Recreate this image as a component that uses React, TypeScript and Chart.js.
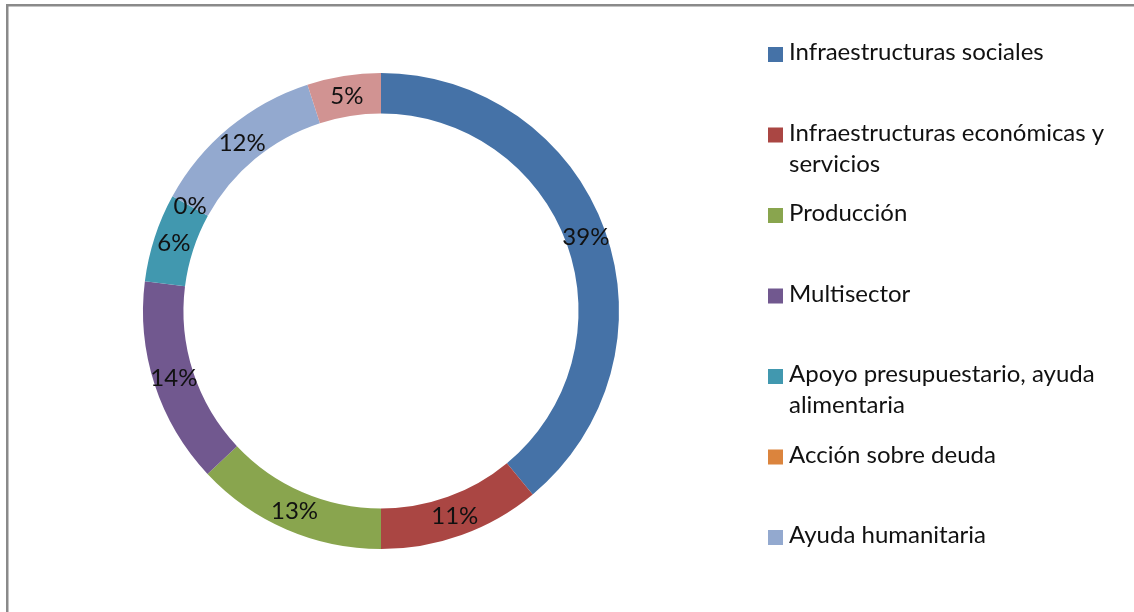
import React, { useEffect, useRef } from "react";
import { Chart, registerables } from "chart.js";

Chart.register(...registerables);

const categories = [
  "Infraestructuras sociales",
  "Infraestructuras económicas y servicios",
  "Producción",
  "Multisector",
  "Apoyo presupuestario, ayuda alimentaria",
  "Acción sobre deuda",
  "Ayuda humanitaria",
  "Otros",
];
const values = [39, 11, 13, 14, 6, 0, 12, 5];
const percentLabels = ["39%", "11%", "13%", "14%", "6%", "0%", "12%", "5%"];
const colors = ["#4572A7", "#AA4643", "#89A54E", "#71588F", "#4198AF", "#DB843D", "#93A9CF", "#D19392"];
const legendCount = 7;

const FONT = "Lato, 'Open Sans', sans-serif";

function wrap(ctx: CanvasRenderingContext2D, text: string, maxW: number): string[] {
  const words = text.split(" ");
  const lines: string[] = [];
  let cur = "";
  for (const w of words) {
    const t = cur ? cur + " " + w : w;
    if (ctx.measureText(t).width > maxW && cur) {
      lines.push(cur);
      cur = w;
    } else cur = t;
  }
  if (cur) lines.push(cur);
  return lines;
}

const framePlugin = {
  id: "frame",
  beforeDraw(chart: any) {
    const ctx = chart.ctx as CanvasRenderingContext2D;
    ctx.save();
    ctx.fillStyle = "#ffffff";
    ctx.fillRect(0, 0, chart.width, chart.height);
    ctx.fillStyle = "#8a8a8a";
    ctx.fillRect(6, 4, chart.width, 2.5);
    ctx.fillRect(6, 4, 2.5, chart.height);
    ctx.restore();
  },
};

const labelsPlugin = {
  id: "sliceLabels",
  afterDatasetsDraw(chart: any) {
    const ctx = chart.ctx as CanvasRenderingContext2D;
    const meta = chart.getDatasetMeta(0);
    ctx.save();
    ctx.font = `24px ${FONT}`;
    ctx.fillStyle = "#111111";
    ctx.textAlign = "center";
    ctx.textBaseline = "middle";
    meta.data.forEach((arc: any, i: number) => {
      const p = arc.getProps(["x", "y", "startAngle", "endAngle", "innerRadius", "outerRadius"], true);
      const a = (p.startAngle + p.endAngle) / 2;
      const r = (p.innerRadius + p.outerRadius) / 2;
      ctx.fillText(percentLabels[i], p.x + r * Math.cos(a), p.y + r * Math.sin(a));
    });
    ctx.restore();
  },
};

const legendPlugin = {
  id: "sideLegend",
  afterDraw(chart: any) {
    const ctx = chart.ctx as CanvasRenderingContext2D;
    ctx.save();
    ctx.font = `24px ${FONT}`;
    ctx.textAlign = "left";
    ctx.textBaseline = "alphabetic";
    for (let i = 0; i < legendCount; i++) {
      const base = 60 + i * 80.5;
      ctx.fillStyle = colors[i];
      ctx.fillRect(768, base - 13, 15, 15);
      ctx.fillStyle = "#111111";
      const lines = wrap(ctx, categories[i], 335);
      lines.forEach((ln, k) => ctx.fillText(ln, 789, base + k * 31));
    }
    ctx.restore();
  },
};

export default function App() {
  const ref = useRef<HTMLCanvasElement>(null);
  useEffect(() => {
    const chart = new Chart(ref.current!, {
      type: "doughnut",
      data: {
        labels: categories,
        datasets: [
          {
            data: values,
            backgroundColor: colors,
            borderWidth: 0,
          },
        ],
      },
      options: {
        responsive: false,
        animation: false,
        cutout: "83%",
        layout: { padding: { left: 143, top: 73, right: 515, bottom: 63 } },
        plugins: {
          legend: { display: false },
          tooltip: { enabled: false },
        },
      },
      plugins: [framePlugin, labelsPlugin, legendPlugin],
    });
    return () => chart.destroy();
  }, []);
  return (
    <div style={{ position: "absolute", left: 0, top: 0, width: 1134, height: 612, background: "#fff" }}>
      <canvas ref={ref} width={1134} height={612} />
    </div>
  );
}
